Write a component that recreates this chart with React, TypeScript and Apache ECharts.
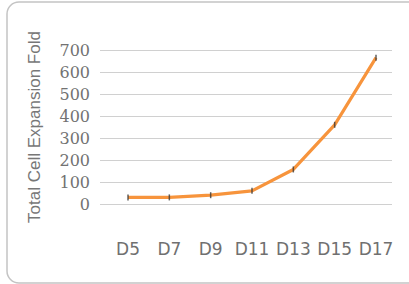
import React, { useEffect, useRef } from "react";
import * as echarts from "echarts";

const categories = ["D5", "D7", "D9", "D11", "D13", "D15", "D17"];
const foldValues = [30, 30, 40, 60, 157, 360, 665];
const yTicks = [0, 100, 200, 300, 400, 500, 600, 700];

export default function App() {
  const ref = useRef<HTMLDivElement>(null);
  useEffect(() => {
    if (!ref.current) return;
    const chart = echarts.init(ref.current, null, { renderer: "svg" });
    const yMin = yTicks[0];
    const yMax = yTicks[yTicks.length - 1];
    chart.setOption({
      animation: false,
      backgroundColor: "#ffffff",
      graphic: [
        {
          type: "rect",
          shape: { x: 7, y: 2, width: 430, height: 281, r: 12 },
          style: { fill: "none", stroke: "#c4c4c4", lineWidth: 1.5 },
          silent: true,
        },
      ],
      grid: [
        { left: 100, right: 17, top: 50, bottom: 80 },
        { left: 128, right: 33, top: 50, bottom: 80 },
      ],
      xAxis: [
        {
          gridIndex: 0,
          type: "category",
          data: categories,
          show: false,
        },
        {
          gridIndex: 1,
          type: "category",
          data: categories,
          boundaryGap: false,
          axisLine: { show: false },
          axisTick: { show: false },
          splitLine: { show: false },
          axisLabel: {
            interval: 0,
            margin: 36,
            fontFamily: "DejaVu Sans",
            fontSize: 17,
            color: "#707070",
          },
        },
      ],
      yAxis: [
        {
          gridIndex: 0,
          type: "value",
          min: yMin,
          max: yMax,
          interval: 100,
          name: "Total Cell Expansion Fold",
          nameLocation: "middle",
          nameGap: 57,
          nameTextStyle: {
            fontFamily: "Liberation Sans",
            fontSize: 17,
            color: "#777777",
          },
          axisLine: { show: false },
          axisTick: { show: false },
          splitLine: { lineStyle: { color: "#d0d0d0", width: 1.2 } },
          axisLabel: {
            margin: 10,
            fontFamily: "DejaVu Serif",
            fontSize: 16,
            color: "#727272",
          },
        },
        {
          gridIndex: 1,
          type: "value",
          min: yMin,
          max: yMax,
          show: false,
          splitLine: { show: false },
        },
      ],
      series: [
        {
          type: "line",
          xAxisIndex: 1,
          yAxisIndex: 1,
          data: foldValues,
          symbol: "none",
          lineStyle: { color: "#F7943C", width: 3.2 },
          z: 2,
        },
        {
          type: "scatter",
          xAxisIndex: 1,
          yAxisIndex: 1,
          data: foldValues,
          symbol: "rect",
          symbolSize: [1.5, 6],
          itemStyle: { color: "#3a3a3a" },
          silent: true,
          z: 3,
        },
      ],
    });
    return () => chart.dispose();
  }, []);
  return (
    <div
      ref={ref}
      style={{ position: "fixed", left: 0, top: 0, width: 409, height: 284 }}
    />
  );
}
